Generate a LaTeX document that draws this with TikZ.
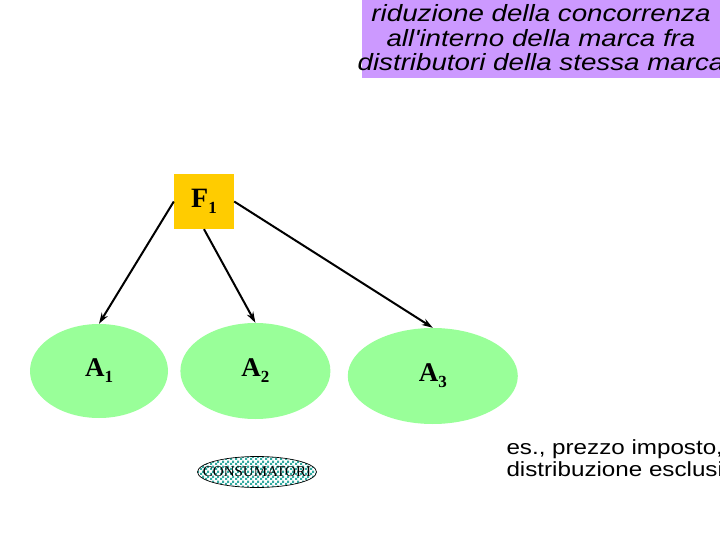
\documentclass[tikz,border=0pt]{standalone}
\usepackage{fontspec}
\setmainfont{Liberation Serif}
\setsansfont{Liberation Sans}
\newfontfamily\largo[FakeStretch=1.18]{Liberation Sans}
\usepackage{xcolor}
\usepackage{tikz}
\usetikzlibrary{positioning,shapes.geometric,arrows.meta,patterns}
\definecolor{lilla}{HTML}{CC99FF}
\definecolor{oro}{HTML}{FFCC00}
\definecolor{verdino}{HTML}{99FF99}
\definecolor{ottanio}{HTML}{33AAA0}
\newcommand{\pedice}[1]{\raisebox{-6pt}{\fontsize{17}{17}\selectfont #1}}
\pgfdeclarepatternformonly{scacchi}{\pgfqpoint{0pt}{0pt}}{\pgfqpoint{5pt}{5pt}}{\pgfqpoint{5pt}{5pt}}{
  \pgfpathrectangle{\pgfqpoint{0pt}{0pt}}{\pgfqpoint{2.5pt}{2.5pt}}
  \pgfpathrectangle{\pgfqpoint{2.5pt}{2.5pt}}{\pgfqpoint{2.5pt}{2.5pt}}
  \pgfusepath{fill}}

\begin{document}
\begin{tikzpicture}[x=1pt,y=-1pt,
        every node/.style={align=center},
        fornitore/.style={fill=oro,minimum width=60pt,minimum height=55pt,inner sep=0pt,font=\fontsize{28}{28}\selectfont\bfseries},
        rivenditore/.style={ellipse,fill=verdino,inner sep=0pt,font=\fontsize{27}{27}\selectfont\bfseries},
        freccia/.style={-{Stealth[length=11pt,width=7pt]},line width=2pt},
      ]
      \clip (0,0) rectangle (720,540);
      \fill[white] (0,0) rectangle (720,540);
      % riquadro in alto
      \fill[lilla] (362,0) rectangle (730,78);
      \node[font=\fontsize{23.5}{24.5}\selectfont\largo\itshape] (nota) at (541,38)
        {riduzione della concorrenza\\all'interno della marca fra\\distributori della stessa marca};
      \node[fornitore] (f1) at (204,201.5) {F\pedice{1}};
      \node[rivenditore,minimum width=138pt,minimum height=94pt] (a1) at (99,371) {A\pedice{1}};
      \node[rivenditore,minimum width=150pt,minimum height=96pt,right=12pt of a1] (a2) {A\pedice{2}};
      \node[rivenditore,minimum width=170pt,minimum height=96pt,right=17pt of a2,yshift=-5pt] (a3) {A\pedice{3}};
      \node[ellipse,draw,line width=0.7pt,fill=white,pattern=scacchi,pattern color=ottanio,
            minimum width=119pt,minimum height=31pt,inner sep=0pt,
            label={[font=\fontsize{15}{15}\selectfont]center:CONSUMATORI}]
            (cons) at (257,472) {};
      \node[anchor=north west,align=left,font=\fontsize{20.5}{22.5}\selectfont\largo] (es) at (503,436)
        {es., prezzo imposto,\\distribuzione esclusiva};
      \draw[freccia] (f1.west) -- (a1.north);
      \draw[freccia] (f1.south) -- (a2.north);
      \draw[freccia] (f1.east) -- (a3.north);
    \end{tikzpicture}
\end{document}
